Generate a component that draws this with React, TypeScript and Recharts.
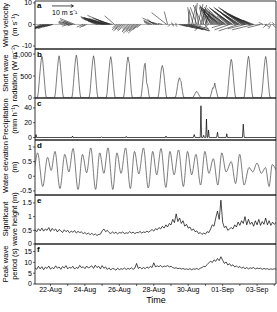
import React from 'react';
import { LineChart, Line, XAxis, YAxis, ReferenceArea, ReferenceLine } from 'recharts';

// time axis: days since 21-Aug 00:00
const X0 = 0.1;
const X1 = 14.1;
const dayTicks = [1, 2, 3, 4, 5, 6, 7, 8, 9, 10, 11, 12, 13, 14];
const dateTickDays = [1, 3, 5, 7, 9, 11, 13];
const dateTickLabels = ['22-Aug', '24-Aug', '26-Aug', '28-Aug', '30-Aug', '01-Sep', '03-Sep'];

// a: wind sticks (base time, u, v in m/s)
const windT = [
  0.45, 0.55, 0.62, 0.7, 0.78, 0.85, 0.92, 1.0, 1.08, 1.15,
  1.7, 1.85, 2.0, 2.05, 2.1, 2.2, 2.25, 2.3, 2.42, 2.9, 3.0, 3.1,
  3.7, 3.8, 3.9, 4.0, 4.05, 4.1, 4.15, 4.2, 4.25, 4.3, 4.35, 4.4, 4.45, 4.5, 4.6, 4.72,
  4.85, 4.95, 5.05, 5.15, 5.25, 5.35, 5.45, 5.55, 5.65, 5.75, 5.85, 5.92, 6.0, 6.08, 6.15, 6.25,
  6.7, 6.8, 6.9, 7.0, 7.1, 7.2, 7.3, 7.5, 7.75, 7.8,
  7.95, 8.05, 8.15, 8.25, 8.35,
  8.45, 8.55, 8.65, 8.75, 8.85, 8.95, 9.05, 9.15, 9.3,
  9.0, 9.1, 9.2, 9.3, 9.4, 9.5, 9.55, 9.6, 9.7, 9.75, 9.8, 9.85, 9.9, 9.95, 10.0, 10.05, 10.1, 10.15, 10.2,
  10.3, 10.35, 10.4, 10.45, 10.5, 10.55, 10.6, 10.65, 10.7, 10.75, 10.8, 10.85,
  10.9, 10.95, 11.0, 11.05, 11.1, 11.15, 11.2, 11.3, 11.35, 11.4, 11.45, 11.5, 11.55, 11.6,
  11.7, 11.75, 11.8, 11.85, 11.9, 11.95, 12.0, 12.1, 12.15, 12.2, 12.25, 12.3, 12.35, 12.4,
  12.5, 12.55, 12.6, 12.65, 12.7, 12.8,
  11.0, 11.4, 11.9, 12.3, 12.8, 13.2,
  13.35, 13.45, 13.55, 13.65, 13.8, 13.9, 14.0,
];
const windU = [
  -3, -4, -5, -6, -7, -6, -5, -6, -4, -3,
  -2, -3, -4, -3, -3, -5, -2, -4, -7, -3, -2.5, -2,
  -3, -5, -6, -8, -9, -10, -11, -10, -12, -11, -9, -10, -8, -7, -6, -4.6,
  -2, -3, -2.5, -4, -3, -3.5, -2, -3, -4, -3, -5, -4, -3.5, -4.5, -3, -2,
  -2, -3, -4, -3, -6, -4, -3, -2, -7, -1.5,
  -1, 1, -1.2, 0.8, -0.8,
  4, 6, 7, 9, 8, 10, 8, 9, 7,
  0.5, -1, 2, -2, 1, -3, 2.5, -1, 3, -3, -4, 1, -2, 2, 2, -3, -1, -2, -2,
  -2, -4, -5, -6, -5, -3, -6, -7, -8, -7, -8, -6,
  -4, -6, -8, -9, -8, -9, -7, -5, -7, -9, -10, -9, -8, -6,
  -6, -8, -10, -11, -10, -9, -7, -7, -9, -11, -12, -11, -10, -8,
  -6, -8, -10, -9, -7, -5,
  -5, -7, -9, -8, -10, -6,
  -2, 2, -1.5, 1, -1, 1.5, -1,
];
const windV = [
  -1.2, -1.6, -2, -2.4, -2.2, -1.8, -1.5, -2, -1.2, -0.8,
  0.8, 1.2, 1.5, -0.8, 1, 2, -0.6, 1.5, 2.8, -1.2, -1.5, -1,
  1, 1.5, 1.8, 2.2, 2.5, 2.8, 3.2, 3, 3.6, 3.2, 2.8, 4.2, 3, 2.5, 1.5, 4,
  -1.5, -2.5, -2, -3, -2.5, -3, -2, -2.8, -3.5, -2.5, -4, -3.5, -3, -4, -2.5, -1.5,
  1, 1.5, 2, 2.5, 3, 1.5, 1, 0.5, 5.5, 6,
  -1, -0.8, 0.8, -1, 0.6,
  -1, -1.5, -2, -2.5, -2.2, -3, -2.5, -3, -2,
  6, 8, 9, 7, 10, 8, 9.5, 6, 9, -3, 9, 7, 8, -2.5, 6, 9, 5, -2, 4,
  4, 6, 7, 8, 6, 4, 7, 8, 8.5, 7.5, 7, 5,
  3, 5, 7, 8, 7.5, 6.5, 5, 4, 6, 7.5, 8, 7, 6, 4,
  5, 6.5, 7.5, 8, 7, 6, 4.5, 5, 6, 7.5, 8, 7, 6, 4.5,
  3, 4, 5, 4, 3, 2,
  -1.5, -2.5, -3, -2, -2.5, -1.5,
  1, -1, -1.5, 1, -2, -1.5, 1,
];

// b: short wave radiation, hourly samples per day (W m-2)
const radHours = [4, 6, 7, 8, 9, 10, 11, 12, 13, 14, 15, 16, 17, 18, 20];
const radDays = [
  [0, 20, 130, 320, 520, 700, 860, 950, 880, 700, 500, 300, 120, 20, 0],
  [0, 25, 140, 330, 540, 720, 880, 960, 870, 690, 490, 290, 110, 15, 0],
  [0, 20, 130, 330, 540, 730, 890, 975, 900, 720, 510, 300, 120, 20, 0],
  [0, 20, 120, 310, 520, 710, 870, 960, 890, 710, 500, 290, 110, 15, 0],
  [0, 20, 130, 320, 520, 700, 860, 940, 860, 690, 480, 280, 110, 15, 0],
  [0, 20, 120, 310, 510, 690, 850, 935, 840, 780, 520, 290, 100, 15, 0],
  [0, 15, 100, 260, 440, 620, 760, 790, 600, 350, 300, 220, 90, 10, 0],
  [0, 15, 100, 250, 420, 590, 700, 740, 680, 560, 400, 240, 90, 10, 0],
  [0, 10, 60, 150, 260, 360, 430, 460, 400, 380, 260, 150, 60, 10, 0],
  [0, 5, 20, 50, 80, 110, 140, 150, 130, 100, 70, 40, 15, 5, 0],
  [0, 10, 40, 100, 160, 230, 220, 260, 340, 250, 180, 110, 40, 5, 0],
  [0, 20, 120, 300, 490, 660, 810, 880, 820, 660, 470, 280, 110, 15, 0],
  [0, 20, 130, 320, 520, 700, 860, 950, 880, 700, 500, 300, 120, 20, 0],
  [0, 20, 130, 320, 520, 700, 860, 945, 870, 700, 500, 300, 120, 20, 0],
];

// c: precipitation (mm h-1)
const precipT = [
  0.1, 0.13, 0.16, 0.19, 2.25, 2.28, 2.31, 3.93, 3.96, 3.99, 5.37, 5.4, 5.43, 7.68, 7.71, 7.74,
  9.3, 9.35, 9.4, 9.7, 9.74, 9.78, 9.86, 9.9, 9.94, 10.02, 10.06, 10.1, 10.14, 10.18, 10.22,
  10.65, 10.7, 10.75, 11.2, 11.24, 11.28, 12.15, 12.2, 12.25, 14.1,
];
const precipV = [
  0, 0, 4, 0, 0, 2, 0, 0, 1, 0, 0, 1.5, 0, 0, 2, 0,
  0, 4, 0, 0, 43, 0, 0, 3, 0, 0, 25, 0, 0, 10, 0,
  0, 7, 0, 0, 5, 0, 0, 18, 0, 0,
];

// d: water elevation extremes (m)
const tideT = [
  0.1, 0.25, 0.55, 0.83, 1.04, 1.26, 1.55, 1.83, 2.07, 2.31, 2.6, 2.86, 3.1, 3.34, 3.62,
  3.86, 4.1, 4.34, 4.62, 4.86, 5.1, 5.36, 5.64, 5.88, 6.13, 6.4, 6.68, 6.94, 7.17, 7.42,
  7.7, 7.94, 8.18, 8.44, 8.72, 8.96, 9.2, 9.45, 9.72, 9.97, 10.2, 10.46, 10.72, 10.95, 11.2,
  11.5, 11.75, 11.99, 12.25, 12.53, 12.75, 13.0, 13.25, 13.49, 13.7, 13.88, 14.1,
];
const tideH = [
  0.35, 0.8, -0.35, 0.65, 0.2, 0.85, -0.42, 0.75, 0.15, 0.95, -0.45, 0.75, 0.12, 0.97, -0.45,
  0.8, 0.1, 0.97, -0.45, 0.8, 0.1, 0.97, -0.42, 0.85, 0.08, 0.97, -0.4, 0.85, 0.05, 0.95,
  -0.38, 0.85, 0.05, 0.9, -0.35, 0.85, 0.05, 0.75, -0.3, 0.85, 0.1, 0.6, -0.3, 0.8, 0.15,
  0.5, -0.25, 0.75, -0.3, 0.3, 0.15, 0.45, 0.1, 0.3, -0.35, 0.4, 0.2,
];

// e, f: wave data sampled every 0.1 day from X0
const waveStep = 0.1;
const waveHeight = [
  0.52, 0.45, 0.56, 0.48, 0.58, 0.47, 0.55, 0.5, 0.6, 0.46, 0.57, 0.49, 0.55, 0.44, 0.53,
  0.48, 0.42, 0.52, 0.45, 0.5, 0.41, 0.47, 0.43, 0.49, 0.4, 0.46, 0.42,
  0.44, 0.38, 0.42, 0.36, 0.4, 0.34, 0.39, 0.33, 0.37, 0.31, 0.35, 0.36,
  0.48, 0.55, 0.45, 0.5,
  0.42, 0.38, 0.44, 0.39, 0.43, 0.37, 0.42, 0.4, 0.44, 0.38, 0.41, 0.39, 0.45, 0.4, 0.43, 0.38, 0.42, 0.41, 0.46, 0.4, 0.44, 0.42, 0.47, 0.43,
  0.48, 0.53, 0.47, 0.56, 0.52, 0.6, 0.55, 0.65, 0.58, 0.7, 0.62, 0.75,
  0.7, 0.9, 0.78, 1.1, 0.82, 0.95,
  0.75, 0.85, 0.65, 0.72, 0.58, 0.62, 0.5, 0.55, 0.45, 0.48, 0.38, 0.42,
  0.35, 0.4, 0.36, 0.45, 0.42,
  0.55, 0.7, 0.65, 0.95, 1.2, 0.9, 1.6,
  0.8, 0.6, 0.65, 0.5, 0.55,
  0.6, 0.55, 0.7, 0.62, 0.8, 0.68, 0.85, 0.75, 1.0, 0.7, 0.9, 0.72,
  0.8, 0.65, 0.85, 0.7, 0.9, 0.68, 0.82, 0.72, 0.95, 0.7, 0.85, 0.68, 0.8, 0.72, 0.78,
];
const wavePeriod = [
  7.5, 6.8, 8.2, 7.0, 8.0, 6.6, 7.8, 7.2, 8.3, 6.9, 7.6, 7.1, 8.4, 7.3, 7.9, 6.8, 8.1, 7.4, 8.5, 7.0, 7.8, 7.3, 8.2, 6.9, 7.7, 7.2, 8.6, 7.5, 8.0, 7.1, 8.3, 7.4, 7.9,
  8.4, 7.2, 8.7, 7.6, 8.2, 7.0, 8.5, 7.3, 7.9, 6.7, 7.5, 6.5, 7.2,
  7.0, 6.4, 7.3, 6.6, 7.1, 6.8, 7.4, 6.7, 7.2, 6.9, 7.5, 6.8, 7.3,
  9.5, 7.2, 7.8, 7.0,
  7.6, 7.1, 7.9, 7.3, 8.2, 7.6, 9.8, 7.9, 8.4, 8.0, 8.6, 7.8, 8.3, 8.1, 8.5, 7.9, 8.2,
  7.6, 7.3, 7.5, 7.1, 7.3, 6.9, 7.2, 6.8, 7.0, 6.7, 7.1, 6.6, 7.0, 6.8, 7.2, 6.7, 7.3,
  7.6, 8.2, 8.0, 9.0,
  9.8, 10.6, 9.9, 11.2, 10.5, 11.8, 10.8, 12.6, 11.0,
  9.5, 10.2, 8.8, 9.4, 8.3, 8.9, 7.9, 8.4,
  7.6, 8.1, 7.3, 7.8, 7.1, 7.6, 7.0, 7.5, 7.2, 7.7, 6.9, 7.4, 7.1, 7.3, 6.8, 7.2, 6.9, 7.1, 6.7, 7.0, 6.8, 7.0, 6.9,
];

const radData = radDays.flatMap((vals, d) => vals.map((v, i) => ({ t: d + radHours[i] / 24, v })));
const precipData = precipT.map((t, i) => ({ t, v: precipV[i] }));
const tideData = tideT.map((t, i) => ({ t, v: tideH[i] }));
const heightData = waveHeight.map((v, i) => ({ t: X0 + i * waveStep, v }));
const periodData = wavePeriod.map((v, i) => ({ t: X0 + i * waveStep, v }));

const W = 277;
const LEFT = 35;
const RIGHT = 1;
const PAD = 5; // room above each plot so the top tick label is not cut
const FONT = '"Liberation Sans", Arial, sans-serif';

const fmtDate = (d: number) => {
  const i = dateTickDays.indexOf(d);
  return i >= 0 ? dateTickLabels[i] : '';
};

type PanelProps = {
  top: number;
  plotH: number;
  last?: boolean;
  data: { t: number; v: number }[];
  domain: [number, number];
  yTicks: number[];
  fmt?: (v: number) => string;
  color: string;
  curve?: 'linear' | 'monotone';
  children?: React.ReactNode;
};

function Panel({ top, plotH, last, data, domain, yTicks, fmt, color, curve = 'linear', children }: PanelProps) {
  const axisH = last ? 16 : 3;
  return (
    <div style={{ position: 'absolute', left: 0, top: top - PAD, width: W }}>
      <LineChart width={W} height={plotH + axisH + PAD} data={data} margin={{ top: PAD, right: RIGHT, bottom: 0, left: 0 }}>
        <XAxis
          type="number"
          dataKey="t"
          domain={[X0, X1]}
          allowDataOverflow
          ticks={dayTicks}
          interval={0}
          height={axisH}
          tickSize={2}
          axisLine={false}
          tickLine={{ stroke: '#000', strokeWidth: 0.6 }}
          tick={last ? { fontSize: 7, fill: '#000' } : false}
          tickMargin={1}
          tickFormatter={fmtDate}
        />
        <YAxis
          type="number"
          domain={domain}
          allowDataOverflow
          ticks={yTicks}
          interval={0}
          width={LEFT}
          tickSize={2}
          tickMargin={1}
          axisLine={false}
          tickLine={{ stroke: '#000', strokeWidth: 0.6 }}
          tick={{ fontSize: 7, fill: '#000' }}
          tickFormatter={fmt}
        />
        {children}
        {data.length > 0 && (
          <Line
            type={curve}
            dataKey="v"
            stroke={color}
            strokeWidth={0.7}
            dot={false}
            isAnimationActive={false}
          />
        )}
        <ReferenceArea
          x1={X0}
          x2={X1}
          y1={domain[0]}
          y2={domain[1]}
          fill="none"
          stroke="#000"
          strokeWidth={0.8}
          fillOpacity={0}
          ifOverflow="visible"
        />
      </LineChart>
    </div>
  );
}

function YTitle({ cy, lines }: { cy: number; lines: string[] }) {
  return (
    <div
      style={{
        position: 'absolute',
        left: 10 - 50,
        top: cy - 9,
        width: 100,
        height: 18,
        transform: 'rotate(-90deg)',
        textAlign: 'center',
        fontSize: 7.5,
        lineHeight: '9px',
        whiteSpace: 'nowrap',
      }}
    >
      {lines[0]}
      <br />
      {lines[1]}
    </div>
  );
}

function Letter({ top, ch }: { top: number; ch: string }) {
  return (
    <div style={{ position: 'absolute', left: 37, top, fontSize: 8, fontWeight: 'bold', lineHeight: '8px' }}>{ch}</div>
  );
}

// panel a geometry used to keep wind sticks isotropic
const A_DOMAIN: [number, number] = [-11.4, 10.9];
const A_H = 48;
const pxPerMs = A_H / (A_DOMAIN[1] - A_DOMAIN[0]);
const pxPerDay = (W - LEFT - RIGHT) / (X1 - X0);
const dayPerMs = pxPerMs / pxPerDay;

const arrowX = 1.08;
const arrowY = 8.6;
const arrowEnd = arrowX + 10 * dayPerMs;

export default function App() {
  return (
    <div style={{ position: 'absolute', left: 0, top: 0, width: W, height: 312, background: '#fff', fontFamily: FONT, color: '#000', overflow: 'hidden' }}>
      <Panel top={1} plotH={A_H} data={[]} domain={A_DOMAIN} yTicks={[-10, 0, 10]} color="#000">
        <ReferenceLine y={0} stroke="#666" strokeWidth={0.5} />
        {windT.map((t, i) => (
          <ReferenceLine
            key={i}
            segment={[
              { x: t, y: 0 },
              { x: t + windU[i] * dayPerMs, y: windV[i] },
            ]}
            stroke="#222"
            strokeWidth={0.6}
            ifOverflow="hidden"
          />
        ))}
        <ReferenceLine segment={[{ x: arrowX, y: arrowY }, { x: arrowEnd, y: arrowY }]} stroke="#000" strokeWidth={0.7} ifOverflow="visible" />
        <ReferenceLine segment={[{ x: arrowEnd - 0.15, y: arrowY + 0.7 }, { x: arrowEnd, y: arrowY }]} stroke="#000" strokeWidth={0.7} ifOverflow="visible" />
        <ReferenceLine segment={[{ x: arrowEnd - 0.15, y: arrowY - 0.7 }, { x: arrowEnd, y: arrowY }]} stroke="#000" strokeWidth={0.7} ifOverflow="visible" />
      </Panel>
      <Panel top={49} plotH={49} data={radData} domain={[0, 1115]} yTicks={[0, 500, 1000]} fmt={(v) => v.toLocaleString('en-US')} color="#444" />
      <Panel top={98} plotH={42} data={precipData} domain={[-3.4, 53.5]} yTicks={[0, 20, 40]} color="#000" />
      <Panel top={140} plotH={55} data={tideData} domain={[-0.64, 1.24]} yTicks={[-0.5, 0, 0.5, 1]} color="#444" curve="monotone" />
      <Panel top={195} plotH={49} data={heightData} domain={[0, 1.79]} yTicks={[0, 0.5, 1, 1.5]} color="#000" />
      <Panel top={244} plotH={40} last data={periodData} domain={[0, 18.5]} yTicks={[0, 5, 10, 15]} color="#000" />

      <div style={{ position: 'absolute', left: 52, top: 9, fontSize: 7, lineHeight: '8px' }}>10 m s⁻¹</div>

      <Letter top={2} ch="a" />
      <Letter top={51} ch="b" />
      <Letter top={100} ch="c" />
      <Letter top={142} ch="d" />
      <Letter top={197} ch="e" />
      <Letter top={246} ch="f" />

      <YTitle cy={25} lines={['Wind velocity', '(m s⁻¹)']} />
      <YTitle cy={73} lines={['Short wave', 'radiation (W m⁻²)']} />
      <YTitle cy={119} lines={['Precipitation', '(mm h⁻¹)']} />
      <YTitle cy={167} lines={['Water elevation', '(m)']} />
      <YTitle cy={219} lines={['Significant', 'wave height (m)']} />
      <YTitle cy={264} lines={['Peak wave', 'period (s)']} />

      <div style={{ position: 'absolute', left: 0, top: 295, width: W, paddingLeft: LEFT, boxSizing: 'border-box', textAlign: 'center', fontSize: 9 }}>
        Time
      </div>
    </div>
  );
}
